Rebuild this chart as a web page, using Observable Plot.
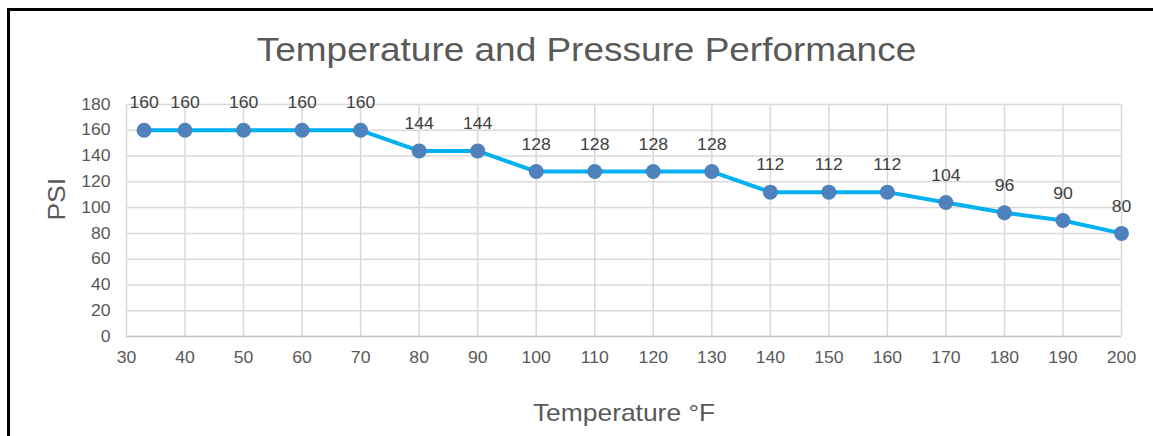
<!DOCTYPE html>
<html>
<head>
<meta charset="utf-8">
<script src="https://cdn.jsdelivr.net/npm/d3@7"></script>
<script src="https://cdn.jsdelivr.net/npm/@observablehq/plot@0.6"></script>
<style>
html, body { margin: 0; padding: 0; background: #fff; }
#frame {
  position: absolute; left: 7px; top: 8px; width: 1146px; height: 428px;
  border-left: 3px solid #000; border-top: 3px solid #000; box-sizing: border-box;
  font-family: "Liberation Sans", Arial, sans-serif; overflow: hidden;
}
#title {
  position: absolute; left: 0; right: 0; top: 22px;
  font-size: 33px; line-height: 33px; color: #595959; text-align: center;
  transform: translateX(5px) scaleX(1.12); transform-origin: center;
}
#chart { position: absolute; left: 0; top: 69px; }
</style>
</head>
<body>
<div id="frame">
  <div id="title">Temperature and Pressure Performance</div>
  <div id="chart"></div>
</div>
<script>
const temperatures = [33, 40, 50, 60, 70, 80, 90, 100, 110, 120, 130, 140, 150, 160, 170, 180, 190, 200];
const psi = [160, 160, 160, 160, 160, 144, 144, 128, 128, 128, 128, 112, 112, 112, 104, 96, 90, 80];
const xTicks = [30, 40, 50, 60, 70, 80, 90, 100, 110, 120, 130, 140, 150, 160, 170, 180, 190, 200];
const yTicks = [0, 20, 40, 60, 80, 100, 120, 140, 160, 180];
const xLabel = "Temperature °F";
const yLabel = "PSI";

const data = temperatures.map((t, i) => ({t, p: psi[i]}));

const chart = Plot.plot({
  width: 1143,
  height: 356,
  marginLeft: 116,
  marginRight: 32,
  marginTop: 24,
  marginBottom: 100,
  style: {fontFamily: "'Liberation Sans', Arial, sans-serif", fontSize: "16px", color: "#595959", background: "transparent"},
  x: {domain: [30, 200]},
  y: {domain: [0, 180]},
  marks: [
    Plot.gridX(xTicks, {stroke: "#d9d9d9", strokeOpacity: 1, strokeWidth: 1.5}),
    Plot.gridY(yTicks, {stroke: "#d9d9d9", strokeOpacity: 1, strokeWidth: 1.5}),
    Plot.ruleY([0], {stroke: "#c6c6c6", strokeWidth: 1.5}),
    Plot.axisX(xTicks, {tickSize: 0, tickPadding: 15, label: null, fontSize: 16, fill: "#595959"}),
    Plot.axisY(yTicks, {tickSize: 0, tickPadding: 16, label: null, fontSize: 16, fill: "#595959"}),
    Plot.line(data, {x: "t", y: "p", stroke: "#00b0f0", strokeWidth: 4}),
    Plot.dot(data, {x: "t", y: "p", r: 7.5, fill: "#4f81bd", stroke: "none"}),
    Plot.text(data, {x: "t", y: "p", text: d => String(d.p), dy: -27, fill: "#404040", fontSize: 16}),
    Plot.text([xLabel], {text: d => d, frameAnchor: "bottom", lineAnchor: "middle", dy: 77, fontSize: 24, fill: "#595959"}),
    Plot.text([yLabel], {text: d => d, frameAnchor: "left", lineAnchor: "middle", rotate: -90, dx: -69, fontSize: 24, fill: "#595959"})
  ]
});

document.getElementById("chart").append(chart);

// widen glyphs slightly to match the reference's horizontally-wide lettering
const S = 1.1;
chart.querySelectorAll("text").forEach(t => {
  const len = t.getComputedTextLength();
  if (len > 0) {
    t.setAttribute("textLength", (len * S).toFixed(2));
    t.setAttribute("lengthAdjust", "spacingAndGlyphs");
  }
});
</script>
</body>
</html>
